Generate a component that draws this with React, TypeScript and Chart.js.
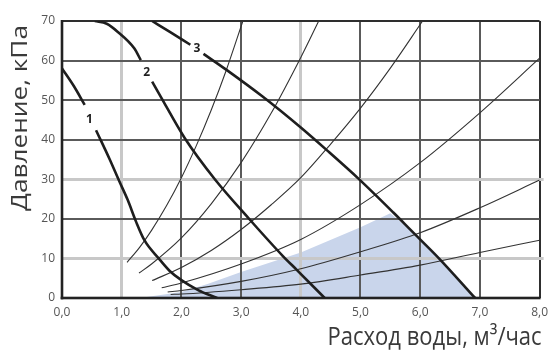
import React, { useEffect, useRef } from "react";
import { Chart, registerables } from "chart.js";

Chart.register(...registerables);

// Axis ticks
const xTickLabels = ["0,0", "1,0", "2,0", "3,0", "4,0", "5,0", "6,0", "7,0", "8,0"];
const yTickValues = [0, 10, 20, 30, 40, 50, 60, 70];
// Grid lines: heavy light-grey ones and thin dark ones
const xLightGrid = [1, 4];
const xDarkGrid = [2, 3, 5, 6, 7, 8];
const yLightGrid = [10, 30];
const yDarkGrid = [20, 40, 50, 60, 70];

// Pump curves (thick), split where the curve number is printed
const pump1aX = [0, 0.2, 0.38];
const pump1aY = [58, 53.5, 48.8];
const pump1bX = [0.57, 0.8, 0.96, 1.1, 1.24, 1.38, 1.62, 1.8, 2.0, 2.28, 2.6];
const pump1bY = [42.4, 35.0, 29.5, 24.8, 19.3, 14.6, 10.0, 6.9, 4.5, 2.0, 0];

const pump2aX = [0.55, 0.75, 0.93, 1.21, 1.32];
const pump2aY = [70, 69.3, 67.3, 63.1, 60.1];
const pump2bX = [1.51, 1.66, 2.06, 2.56, 3.14, 3.7, 3.94, 4.4];
const pump2bY = [54.7, 50.7, 40.3, 30, 19.9, 10.6, 7.0, 0];

const pump3aX = [1.51, 1.8, 2.15];
const pump3aY = [70, 67.3, 64.0];
const pump3bX = [2.37, 2.75, 3.36, 3.99, 4.44, 4.97, 5.55, 5.86, 6.31, 6.92];
const pump3bY = [61.7, 57.7, 50.9, 43.2, 37.3, 30.1, 21.6, 16.9, 10.1, 0];

// Pipe-system curves (thin)
const sysAX = [1.09, 1.3, 1.5, 1.75, 2.0, 2.25, 2.5, 2.75, 3.03];
const sysAY = [9.0, 12.8, 17.1, 23.3, 30.4, 38.5, 47.5, 57.5, 70];
const sysBX = [1.29, 1.5, 2.0, 2.5, 3.0, 3.5, 4.0, 4.3];
const sysBY = [6.3, 8.6, 15.2, 23.8, 34.2, 46.6, 60.8, 70];
const sysCX = [1.51, 2.0, 2.5, 3.0, 3.5, 4.0, 4.5, 5.0, 5.5, 6.04];
const sysCY = [4.4, 7.7, 12.0, 17.3, 23.5, 30.4, 38.9, 48.0, 58.1, 70];
const sysDX = [1.67, 2.0, 3.0, 4.0, 5.0, 6.0, 7.0, 8.0];
const sysDY = [2.6, 3.8, 8.6, 14.8, 23.6, 34.2, 46.8, 60.6];
const sysEX = [1.77, 2.0, 3.0, 4.0, 5.0, 6.0, 7.0, 8.0];
const sysEY = [1.5, 1.9, 4.2, 7.4, 11.7, 16.5, 22.8, 29.8];
const sysFX = [1.82, 2.0, 3.0, 4.0, 5.0, 6.0, 7.0, 8.0];
const sysFY = [0.9, 1.0, 2.1, 3.5, 5.8, 8.3, 11.5, 14.6];

// Shaded working zone (upper edge, then down along pump curve 3)
const zoneX = [1.3, 2.0, 2.45, 3.0, 4.0, 5.0, 5.5, 5.86, 6.31, 6.92];
const zoneY = [0, 1.5, 3.6, 6.6, 11.5, 17.9, 21.4, 16.9, 10.1, 0];

// Curve number labels
const curveLabels = ["1", "2", "3"];
const curveLabelX = [0.46, 1.42, 2.26];
const curveLabelY = [45, 56.9, 63.1];

const xTitle = "Расход воды, м³/час";
const yTitle = "Давление, кПа";

const pts = (xs: number[], ys: number[]) => xs.map((x, i) => ({ x, y: ys[i] }));

const FONT = "'Open Sans', 'Noto Sans', sans-serif";

export default function App() {
  const ref = useRef<HTMLCanvasElement | null>(null);

  useEffect(() => {
    if (!ref.current) return;

    const thick = (xs: number[], ys: number[]) => ({
      data: pts(xs, ys),
      showLine: true,
      borderColor: "#1e1e1e",
      borderWidth: 2.6,
      pointRadius: 0,
      cubicInterpolationMode: "monotone" as const,
      fill: false,
      order: 0,
    });
    const thin = (xs: number[], ys: number[]) => ({
      data: pts(xs, ys),
      showLine: true,
      borderColor: "#333333",
      borderWidth: 1.1,
      pointRadius: 0,
      cubicInterpolationMode: "monotone" as const,
      fill: false,
      order: 1,
    });

    const gridPlugin = {
      id: "customGrid",
      beforeDatasetsDraw(chart: any) {
        const { ctx, scales, chartArea } = chart;
        const { left, right, top, bottom } = chartArea;
        const sx = scales.x;
        const sy = scales.y;
        ctx.save();
        const vbar = (v: number, color: string, w: number) => {
          const p = Math.round(sx.getPixelForValue(v) - w / 2);
          ctx.fillStyle = color;
          ctx.fillRect(p, top, w, bottom - top);
        };
        const hbar = (v: number, color: string, w: number, ext: number) => {
          const p = Math.round(sy.getPixelForValue(v) - w / 2);
          ctx.fillStyle = color;
          ctx.fillRect(left, p, right - left + ext, w);
        };
        xDarkGrid.forEach((v) => vbar(v, v === 8 ? "#2e2e2e" : "#5a5a5a", 2));
        xLightGrid.forEach((v) => vbar(v, "#c8c8c8", 3));
        yDarkGrid.forEach((v) => hbar(v, v === 70 ? "#2e2e2e" : "#5a5a5a", 2, 0));
        yLightGrid.forEach((v) => hbar(v, "#c8c8c8", 3, 4));
        // axis lines
        ctx.fillStyle = "#222222";
        ctx.fillRect(left - 1.3, top - 1, 2.6, bottom - top + 2.3);
        ctx.fillRect(left - 1.3, bottom - 1.3, right - left + 2.3, 2.6);
        ctx.restore();
      },
    };

    const labelPlugin = {
      id: "curveLabels",
      afterDatasetsDraw(chart: any) {
        const { ctx, scales } = chart;
        ctx.save();
        ctx.font = `bold 12px ${FONT}`;
        ctx.fillStyle = "#1e1e1e";
        ctx.textAlign = "center";
        ctx.textBaseline = "middle";
        curveLabels.forEach((t, i) => {
          ctx.fillText(t, scales.x.getPixelForValue(curveLabelX[i]), scales.y.getPixelForValue(curveLabelY[i]));
        });
        ctx.restore();
      },
      afterDraw(chart: any) {
        const { ctx, chartArea } = chart;
        ctx.save();
        ctx.fillStyle = "#3a3a3a";
        ctx.font = `26px ${FONT}`;
        ctx.textBaseline = "alphabetic";
        // x title: right-aligned under the plot, squeezed horizontally
        const wx = ctx.measureText(xTitle).width;
        ctx.save();
        ctx.translate(chartArea.right + 2, 345);
        ctx.scale(214 / wx, 1);
        ctx.textAlign = "right";
        ctx.fillText(xTitle, 0, 0);
        ctx.restore();
        // y title: rotated, top-aligned, squeezed across its height
        const wy = ctx.measureText(yTitle).width;
        ctx.save();
        ctx.translate(27, 211);
        ctx.rotate(-Math.PI / 2);
        ctx.scale(186 / wy, 0.82);
        ctx.textAlign = "left";
        ctx.fillText(yTitle, 0, 0);
        ctx.restore();
        ctx.restore();
      },
    };

    const chart = new Chart(ref.current, {
      type: "scatter",
      data: {
        datasets: [
          {
            data: pts(zoneX, zoneY),
            showLine: true,
            borderWidth: 0,
            borderColor: "rgba(0,0,0,0)",
            backgroundColor: "#c9d5eb",
            pointRadius: 0,
            fill: "origin",
            tension: 0,
            order: 10,
          },
          thin(sysAX, sysAY),
          thin(sysBX, sysBY),
          thin(sysCX, sysCY),
          thin(sysDX, sysDY),
          thin(sysEX, sysEY),
          thin(sysFX, sysFY),
          thick(pump1aX, pump1aY),
          thick(pump1bX, pump1bY),
          thick(pump2aX, pump2aY),
          thick(pump2bX, pump2bY),
          thick(pump3aX, pump3aY),
          thick(pump3bX, pump3bY),
        ] as any,
      },
      options: {
        animation: false,
        responsive: false,
        layout: { padding: { top: 21, right: 10, left: 0, bottom: 0 } },
        plugins: {
          legend: { display: false },
          tooltip: { enabled: false },
          filler: { drawTime: "beforeDraw" } as any,
        },
        scales: {
          x: {
            type: "linear",
            min: 0,
            max: 8,
            afterFit: (s: any) => {
              s.height = 54;
            },
            ticks: {
              stepSize: 1,
              padding: 7,
              color: "#555",
              font: { family: FONT, size: 12 },
              callback: (v: any) => xTickLabels[Math.round(Number(v))] ?? "",
            },
            grid: { display: false, drawTicks: false },
            border: { display: false },
            title: { display: false },
          },
          y: {
            type: "linear",
            min: 0,
            max: 70,
            afterFit: (s: any) => {
              s.width = 62;
            },
            afterBuildTicks: (s: any) => {
              s.ticks = yTickValues.map((v) => ({ value: v }));
            },
            ticks: {
              padding: 7,
              color: "#555",
              font: { family: FONT, size: 12 },
            },
            grid: { display: false, drawTicks: false },
            border: { display: false },
            title: { display: false },
          },
        },
      },
      plugins: [gridPlugin, labelPlugin],
    });

    return () => chart.destroy();
  }, []);

  return (
    <div style={{ position: "fixed", left: 0, top: 0, width: 555, height: 352, background: "#fff" }}>
      <canvas ref={ref} width={555} height={352} style={{ display: "block" }} />
    </div>
  );
}
